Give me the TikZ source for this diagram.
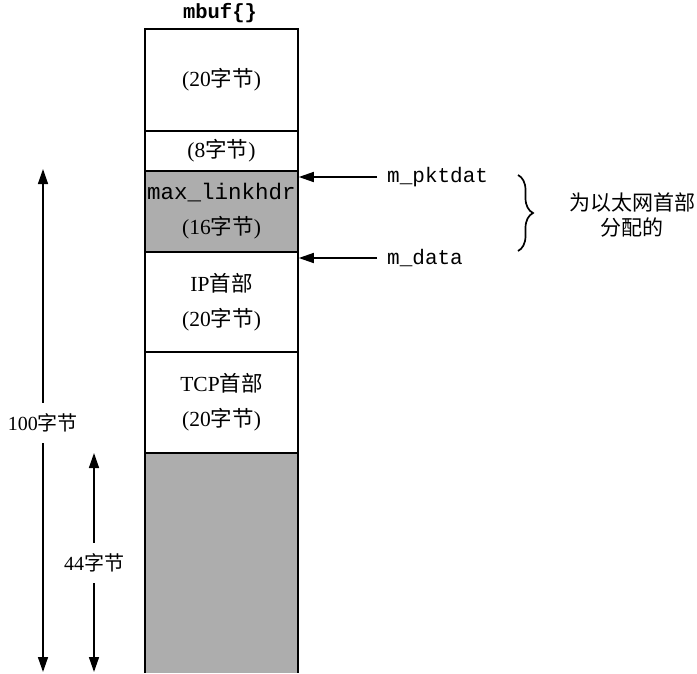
\documentclass[tikz,border=0pt]{standalone}
\usepackage{fontspec}
\setmainfont{Liberation Serif}
\setmonofont{Liberation Mono}
\newfontfamily\cjk{Noto Sans CJK SC}
\usetikzlibrary{arrows.meta,decorations.pathreplacing}
\newcommand\zj{{\cjk 字节}}
\definecolor{shade}{gray}{0.68}
\begin{document}
\begin{tikzpicture}[x=1pt,y=-1pt,
  font=\fontsize{20}{24}\selectfont,
  seg/.style={draw, line width=1.6pt, minimum width=153pt, inner sep=0pt, align=center,
              font=\fontsize{21.5}{35}\selectfont},
  mono/.style={font=\fontsize{21}{24}\ttfamily},
  arr/.style={-{Triangle[length=15pt,width=10pt]}, line width=1.5pt},
  lbl/.style={inner sep=0pt, minimum height=40pt}]
\useasboundingbox (0,0) rectangle (697,673);

\node[font=\fontsize{20.5}{24}\ttfamily\bfseries] (title) at (220,13) {mbuf\{\}};

\node[seg, minimum height=102pt] (hdr) at (221.5,80) {(20\zj)};
\node[seg, minimum height=40pt] (pad) at (221.5,151) {(8\zj)};
\node[seg, fill=shade, minimum height=81pt] (lh) at (221.5,211.5)
  {{\fontsize{22.5}{24}\ttfamily max\_linkhdr}\\(16\zj)};
\node[seg, minimum height=100pt] (ip) at (221.5,302) {IP{\cjk 首部}\\(20\zj)};
\node[seg, minimum height=101pt] (tcp) at (221.5,402.5) {TCP{\cjk 首部}\\(20\zj)};
\node[fill=shade, minimum width=153pt, minimum height=220pt, inner sep=0pt] (dat) at (221.5,563) {};
\draw[line width=1.6pt] (dat.south west) -- (dat.north west) -- (dat.north east) -- (dat.south east);

% pointers
\node[mono, anchor=west, inner xsep=10pt, inner ysep=0pt] (pk) at (377,177) {m\_pktdat};
\node[mono, anchor=west, inner xsep=10pt, inner ysep=0pt] (md) at (377,258) {m\_data};
\draw[arr] (pk.west) -- (pk.west -| lh.east);
\draw[arr] (md.west) -- (md.west -| lh.east);

% brace
\coordinate (bt) at (518,175);
\coordinate (bb) at (518,251);
\draw[decorate, decoration={brace, amplitude=15pt}, line width=1.7pt] (bt) -- (bb);
\node[font=\fontsize{21}{25}\cjk, align=center] (eth) at (632,215) {为以太网首部\\分配的};

% dimensions
\node[lbl] (d100) at (43,423) {100\zj};
\coordinate (t100) at (43,169);
\coordinate (b100) at (43,672);
\draw[arr] (d100.north) -- (t100);
\draw[arr] (d100.south) -- (b100);

\node[lbl] (d44) at (94,563) {44\zj};
\coordinate (t44) at (94,453);
\coordinate (b44) at (94,672);
\draw[arr] (d44.north) -- (t44);
\draw[arr] (d44.south) -- (b44);
\end{tikzpicture}
\end{document}
